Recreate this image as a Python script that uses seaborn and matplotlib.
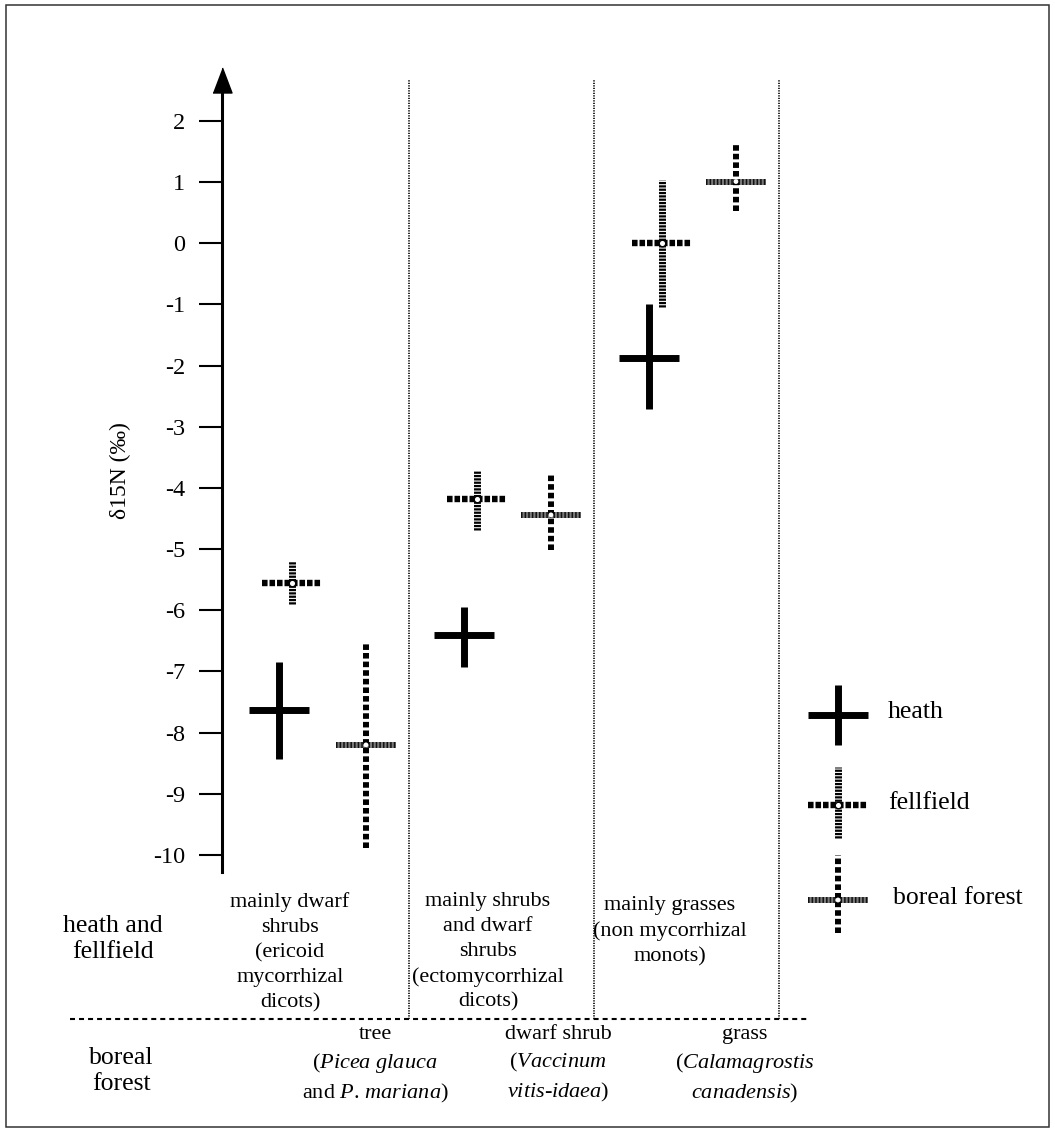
import numpy as np
import pandas as pd
import seaborn as sns
import matplotlib.pyplot as plt
from matplotlib.patches import Rectangle

# ----------------------------------------
# Data (delta 15N, per mil)
# ----------------------------------------

GROUPS = ["ericoid dicots", "ectomycorrhizal dicots", "non mycorrhizal monocots"]
HABITATS = ["heath", "fellfield", "boreal forest"]

HEATH_MEAN = [-7.63, -6.41, -1.88]
HEATH_LOW = [-8.43, -6.93, -2.71]
HEATH_HIGH = [-6.85, -5.95, -0.99]

FELL_MEAN = [-5.56, -4.18, 0.00]
FELL_LOW = [-5.89, -4.68, -1.04]
FELL_HIGH = [-5.19, -3.70, 1.03]

BOREAL_MEAN = [-8.20, -4.44, 1.01]
BOREAL_LOW = [-9.89, -5.02, 0.52]
BOREAL_HIGH = [-6.53, -3.77, 1.62]

Y_TICKS = list(range(-10, 3))

# ----------------------------------------
# Layout (pixels of the 1055 x 1135 picture)
# ----------------------------------------

W, H = 1055, 1135
AX_LEFT, AX_RIGHT, AX_TOP, AX_BOTTOM = 222, 1045, 92, 872
Y_ZERO, Y_SCALE = 243.3, 61.17      # px of value 0, px per unit
X_ORIGIN, X_SCALE = 316, 185        # px of first group centre, px per group
DODGE = {"heath": -0.20, "fellfield": -0.13, "boreal forest": 0.27}
HALF = 0.162                        # half length of the horizontal bar


def vx(px):
    return (px - X_ORIGIN) / X_SCALE


def vy(py):
    return (Y_ZERO - py) / Y_SCALE


sns.set_theme(style="white", rc={
    "axes.edgecolor": "black", "text.color": "black",
    "ytick.color": "black", "axes.labelcolor": "black",
})
plt.rcParams["font.family"] = ["Liberation Serif", "DejaVu Serif"]
plt.rcParams["mathtext.fontset"] = "custom"
plt.rcParams["mathtext.rm"] = "Liberation Serif"
plt.rcParams["mathtext.it"] = "Liberation Serif:italic"
plt.rcParams["axes.unicode_minus"] = False
plt.rcParams["lines.scale_dashes"] = False

# tidy table
df = pd.DataFrame({
    "group": GROUPS * 3,
    "habitat": [h for h in HABITATS for _ in GROUPS],
    "mean": HEATH_MEAN + FELL_MEAN + BOREAL_MEAN,
    "low": HEATH_LOW + FELL_LOW + BOREAL_LOW,
    "high": HEATH_HIGH + FELL_HIGH + BOREAL_HIGH,
})
df["x"] = df["group"].map({g: i for i, g in enumerate(GROUPS)}) + df["habitat"].map(DODGE)

# cross styles
H_STYLE = {
    "heath": [dict(colors="black", linewidths=5, capstyle="butt")],
    "fellfield": [dict(colors="black", linewidths=4.6, linestyles=[(0, (4.0, 1.4))], capstyle="butt")],
    "boreal forest": [dict(colors="#7a7a7a", linewidths=4.3, capstyle="butt"),
                      dict(colors="#111111", linewidths=4.3, linestyles=[(0, (1.1, 1.5))], capstyle="butt")],
}
V_STYLE = {
    "heath": dict(colors="black", linewidths=5, capstyle="butt"),
    "fellfield": dict(colors="black", linewidths=5, linestyles=[(0, (1.6, 0.8))], capstyle="butt"),
    "boreal forest": dict(colors="black", linewidths=4.3, linestyles=[(0, (4.0, 2.2))], capstyle="butt"),
}


def draw_cross(ax, habitat, x, mean, low, high):
    for st in H_STYLE[habitat]:
        ax.hlines(mean, np.asarray(x) - HALF, np.asarray(x) + HALF, clip_on=False, **st)
    ax.vlines(x, low, high, clip_on=False, **V_STYLE[habitat])


fig = plt.figure(figsize=(W / 100, H / 100), dpi=100)
ax = fig.add_axes([AX_LEFT / W, 1 - AX_BOTTOM / H,
                   (AX_RIGHT - AX_LEFT) / W, (AX_BOTTOM - AX_TOP) / H])
ax.set_xlim(vx(AX_LEFT), vx(AX_RIGHT))
ax.set_ylim(vy(AX_BOTTOM), vy(AX_TOP))

# group dividers and the heath/boreal separator
ax.vlines([0.5, 1.5, 2.5], vy(1019), vy(80), colors="black", linewidths=1.2,
          linestyles=[(0, (0.9, 0.9))], clip_on=False)
ax.hlines(vy(1019), vx(70), vx(810), colors="black", linewidths=1.5,
          linestyles=[(0, (3.6, 2.9))], clip_on=False)

# data crosses
for hab in HABITATS:
    sub = df[df["habitat"] == hab]
    draw_cross(ax, hab, sub["x"].values, sub["mean"].values, sub["low"].values, sub["high"].values)

# hollow centres
sns.scatterplot(data=df[df["habitat"] == "fellfield"], x="x", y="mean", ax=ax,
                color="white", edgecolor="black", linewidth=1.0, s=22, legend=False, zorder=5)
sns.scatterplot(data=df[df["habitat"] == "boreal forest"], x="x", y="mean", ax=ax,
                color="white", edgecolor="none", s=12, legend=False, zorder=5)

# y axis with arrow
for side in ["top", "right", "bottom"]:
    ax.spines[side].set_visible(False)
ax.spines["left"].set_linewidth(2.2)
ax.set_xticks([])
ax.set_xlabel("")
ax.set_yticks(Y_TICKS)
ax.tick_params(axis="y", direction="out", length=16.6, width=1.5, pad=10, labelsize=17.5, left=True)
ax.plot([vx(AX_LEFT)], [vy(79.5)], marker=[(-0.38, -0.5), (0.38, -0.5), (0, 0.5)],
        ms=18, color="black", clip_on=False)
ax.set_ylabel("δ15N (‰)", fontsize=17, va="center")
ax.yaxis.set_label_coords((120 - AX_LEFT) / (AX_RIGHT - AX_LEFT), (AX_BOTTOM - 471) / (AX_BOTTOM - AX_TOP))

# legend drawn with the same crosses
LEG_X = vx(838)
LEG = [("heath", 715, 685, 745, 888, 712),
       ("fellfield", 805, 767, 838, 888, 803),
       ("boreal forest", 900, 855, 933, 893, 898)]
for hab, yc, yt, yb, tx, ty in LEG:
    draw_cross(ax, hab, [LEG_X], [vy(yc)], [vy(yb)], [vy(yt)])
    fig.text(tx / W, 1 - ty / H, hab, fontsize=18.5, ha="left", va="center")
ax.scatter([LEG_X], [vy(805)], color="white", edgecolor="black", linewidth=1.0, s=22, zorder=5, clip_on=False)
ax.scatter([LEG_X], [vy(900)], color="white", edgecolor="none", s=12, zorder=5, clip_on=False)


def ftext(px, py, s, **kw):
    fig.text(px / W, 1 - py / H, s, **kw)


# row labels
ftext(113, 915, "heath and\nfellfield", fontsize=18.5, ha="center", va="top", linespacing=1.26)
ftext(121, 1047, "boreal\nforest", fontsize=18.5, ha="center", va="top", linespacing=1.26)

# heath and fellfield groups
BLOCK = dict(fontsize=16, ha="center", va="top", linespacing=1.42)
ftext(290, 892, "mainly dwarf\nshrubs\n(ericoid\nmycorrhizal\ndicots)", **BLOCK)
ftext(488, 892, "mainly shrubs\nand dwarf\nshrubs\n(ectomycorrhizal\ndicots)", **BLOCK)
ftext(670, 896, "mainly grasses\n(non mycorrhizal\nmonots)", **BLOCK)

# boreal forest species
ftext(375, 1025, "tree\n($\\mathit{Picea}$ $\\mathit{glauca}$\nand $\\mathit{P.}\\,\\mathit{mariana}$)", **BLOCK)
ftext(558, 1025, "dwarf shrub\n($\\mathit{Vaccinum}$\n$\\mathit{vitis}$-$\\mathit{idaea}$)", **BLOCK)
ftext(745, 1025, "grass\n($\\mathit{Calamagrostis}$\n$\\mathit{canadensis}$)", **BLOCK)

# outer frame
fig.add_artist(Rectangle((6 / W, 1 - 1127 / H), (1049 - 6) / W, (1127 - 5) / H,
                         transform=fig.transFigure, fill=False, edgecolor="#333333", linewidth=1.1))

fig.savefig("out.png", dpi=100)
